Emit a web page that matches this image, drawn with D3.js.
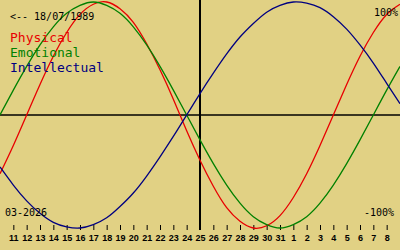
<!DOCTYPE html>
<html>
<head>
<meta charset="utf-8">
<script src="https://cdn.jsdelivr.net/npm/d3@7"></script>
<style>
	body { margin: 0; background: #e1d184; }
	svg { display: block; }
</style>
</head>
<body>
<div id="chart"></div>
<script>
// one value per day, 10 Mar .. 9 Apr 2026
let startDay = "2026-03-10";
let endDay = "2026-04-09";
let centerDay = "2026-03-25";
let physical = [-0.52,-0.27,0,0.27,0.52,0.73,0.89,0.98,1.00,0.94,0.82,0.63,0.40,0.14,-0.14,-0.40,
	-0.63,-0.82,-0.94,-1.00,-0.98,-0.89,-0.73,-0.52,-0.27,0,0.27,0.52,0.73,0.89,0.98];
let emotional = [0,0.22,0.43,0.62,0.78,0.90,0.97,1.00,0.97,0.90,0.78,0.62,0.43,0.22,0,-0.22,
	-0.43,-0.62,-0.78,-0.90,-0.97,-1.00,-0.97,-0.90,-0.78,-0.62,-0.43,-0.22,0,0.22,0.43];
let intellectual = [-0.46,-0.62,-0.76,-0.87,-0.95,-0.99,-1.00,-0.97,-0.91,-0.81,-0.69,-0.54,-0.37,-0.19,0,0.19,
	0.37,0.54,0.69,0.81,0.91,0.97,1.00,0.99,0.95,0.87,0.76,0.62,0.46,0.28,0.10];
let seriesNames = ["Physical", "Emotional", "Intellectual"];
let seriesColors = ["#e80000", "#008000", "#000080"];
let birthLabel = "<-- 18/07/1989";
let monthLabel = "03-2026";
let topLabel = "100%";
let bottomLabel = "-100%";

let width = 400;
let height = 250;

let svg = d3.select("#chart").append("svg")
	.attr("width", width)
	.attr("height", height);

let parse = d3.utcParse("%Y-%m-%d");
let xScale = d3.scaleUtc()
	.domain([parse(startDay), parse(endDay)])
	.range([0, width]);

let yScale = d3.scaleLinear()
	.domain([-1, 1])
	.range([228, 2]);

let days = d3.utcDay.range(parse(startDay), d3.utcDay.offset(parse(endDay), 1));

// zero line and today line
svg.append("line")
	.attr("x1", 0).attr("x2", width)
	.attr("y1", yScale(0)).attr("y2", yScale(0))
	.attr("stroke", "#000").attr("stroke-width", 1.5);

svg.append("line")
	.attr("x1", xScale(parse(centerDay))).attr("x2", xScale(parse(centerDay)))
	.attr("y1", 0).attr("y2", 230)
	.attr("stroke", "#000").attr("stroke-width", 2);

let xAxis = d3.axisBottom(xScale)
	.tickValues(days.slice(1, -1))
	.tickSize(5)
	.tickPadding(5)
	.tickFormat(d3.utcFormat("%-d"));

let gx = svg.append("g")
	.attr("transform", "translate(0,225)")
	.call(xAxis);
gx.select(".domain").remove();
gx.selectAll("line").attr("stroke", "#000");
gx.selectAll("text")
	.attr("fill", "#000")
	.attr("font-family", "Liberation Sans")
	.attr("font-size", 9)
	.attr("font-weight", "bold");

let line = d3.line()
	.x((d, i) => xScale(days[i]))
	.y(d => yScale(d))
	.curve(d3.curveNatural);

[physical, emotional, intellectual].forEach((values, i) => {
	svg.append("path")
		.attr("d", line(values))
		.attr("fill", "none")
		.attr("stroke", seriesColors[i])
		.attr("stroke-width", 1.3);
});

let mono = "DejaVu Sans Mono";

svg.append("text")
	.attr("x", 10).attr("y", 20)
	.attr("font-family", mono).attr("font-size", 10)
	.text(birthLabel);

svg.selectAll(".legend")
	.data(seriesNames)
	.enter()
	.append("text")
	.attr("class", "legend")
	.attr("x", 10)
	.attr("y", (d, i) => 42 + i * 15)
	.attr("font-family", mono)
	.attr("font-size", 13)
	.attr("fill", (d, i) => seriesColors[i])
	.text(d => d);

svg.append("text")
	.attr("x", 5).attr("y", 216)
	.attr("font-family", mono).attr("font-size", 10)
	.text(monthLabel);

svg.append("text")
	.attr("x", 398).attr("y", 16)
	.attr("text-anchor", "end")
	.attr("font-family", mono).attr("font-size", 10)
	.text(topLabel);

svg.append("text")
	.attr("x", 394).attr("y", 216)
	.attr("text-anchor", "end")
	.attr("font-family", mono).attr("font-size", 10)
	.text(bottomLabel);
</script>
</body>
</html>
